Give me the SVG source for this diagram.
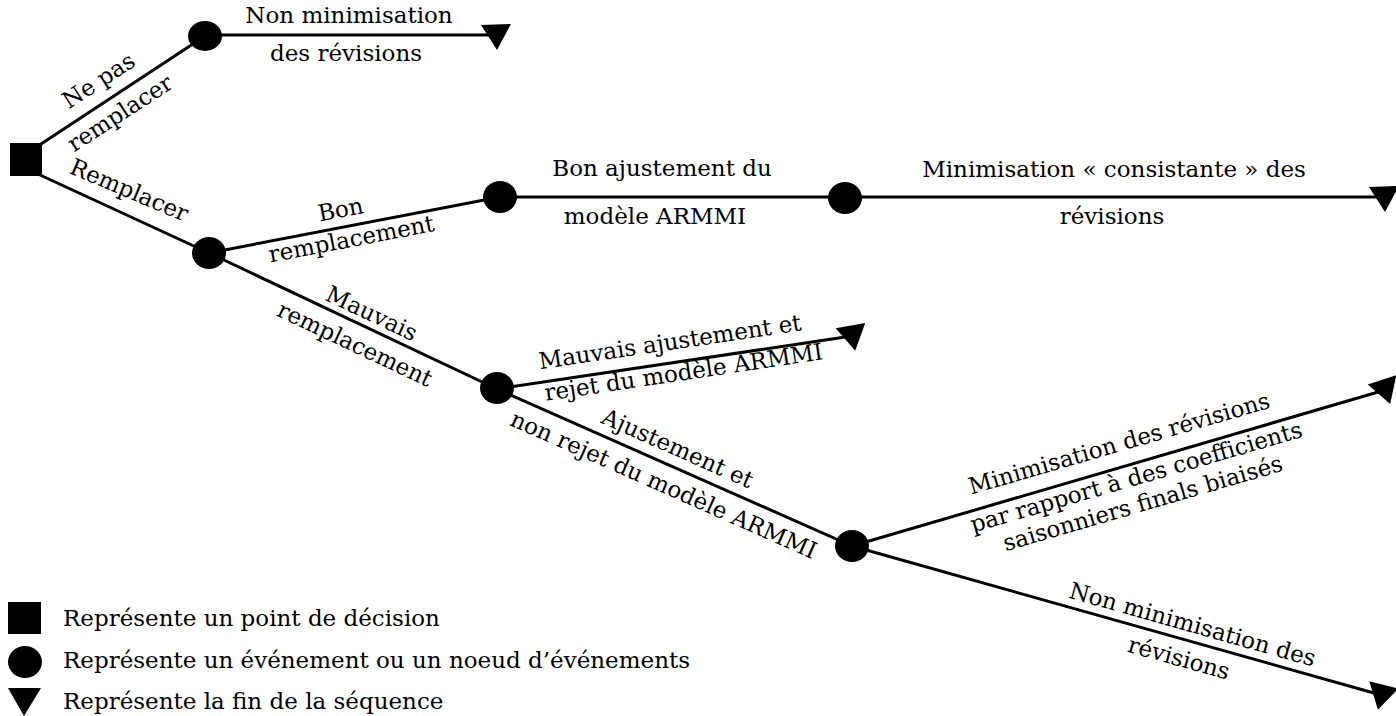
<svg xmlns="http://www.w3.org/2000/svg" width="1396" height="716" viewBox="0 0 1396 716">
<style>
.edge{stroke:#000;stroke-width:3;fill:none}
.n{fill:#000}
text{font-family:"DejaVu Serif","Liberation Serif",serif;font-size:23px;fill:#000;text-anchor:middle}
.leg{text-anchor:start}
</style>
<defs>
<marker id="end" viewBox="-20 -20 40 40" markerWidth="40" markerHeight="40" refX="0" refY="0" orient="auto" markerUnits="userSpaceOnUse">
<path d="M-15,-10 L15,-11 L1,15 Z" fill="#000"/>
</marker>
</defs>
<g id="connectors">
<path class="edge" d="M38,146 L205,36"/>
<path class="edge" d="M40,175 L209,253"/>
<path class="edge" d="M205,35 L496,35" marker-end="url(#end)"/>
<path class="edge" d="M209,253 L500,197"/>
<path class="edge" d="M209,253 L497,389"/>
<path class="edge" d="M500,197 L845,197"/>
<path class="edge" d="M845,197 L1384,197" marker-end="url(#end)"/>
<path class="edge" d="M497,389 L852,336" marker-end="url(#end)"/>
<path class="edge" d="M497,389 L852,546"/>
<path class="edge" d="M852,546 L1385,390" marker-end="url(#end)"/>
<path class="edge" d="M852,546 L1381,695" marker-end="url(#end)"/>
</g>
<g id="decision"><rect class="n" x="10" y="143" width="32" height="33"/></g>
<g id="nodeA"><ellipse class="n" cx="205" cy="36" rx="17" ry="15"/></g>
<g id="nodeB"><ellipse class="n" cx="209" cy="253" rx="17" ry="16"/></g>
<g id="nodeC"><ellipse class="n" cx="500" cy="197" rx="17" ry="16"/></g>
<g id="nodeD"><ellipse class="n" cx="845" cy="198" rx="17" ry="16"/></g>
<g id="nodeE"><ellipse class="n" cx="497" cy="388" rx="17" ry="16"/></g>
<g id="nodeF"><ellipse class="n" cx="852" cy="546" rx="17" ry="16"/></g>
<g id="labels">
<g transform="translate(110,98) rotate(-33.1)"><text y="-13">Ne pas</text><text y="26">remplacer</text></g>
<g transform="translate(120,212) rotate(23)"><text y="-16">Remplacer</text></g>
<g transform="translate(344,227) rotate(-10.9)"><text y="-10">Bon</text><text x="5" y="21">remplacement</text></g>
<g transform="translate(364.5,326.4) rotate(25.3)"><text x="1" y="-7">Mauvais</text><text x="-1" y="28">remplacement</text></g>
<text x="349" y="23">Non minimisation</text>
<text x="346" y="61">des révisions</text>
<text x="662" y="176">Bon ajustement du</text>
<text x="655" y="224">modèle ARMMI</text>
<text x="1114" y="177">Minimisation « consistante » des</text>
<text x="1112" y="224">révisions</text>
<g transform="translate(677,362) rotate(-8.5)"><text x="-4" y="-13">Mauvais ajustement et</text><text x="5" y="19">rejet du modèle ARMMI</text></g>
<g transform="translate(670,465.5) rotate(23.9)"><text y="-11">Ajustement et</text><text x="2" y="28">non rejet du modèle ARMMI</text></g>
<g transform="translate(1120,468) rotate(-16.2)"><text x="6" y="-16">Minimisation des révisions</text><text x="13" y="21">par rapport à des coefficients</text><text x="12" y="48">saisonniers finals biaisés</text></g>
<g transform="translate(1188,640.7) rotate(15.7)"><text y="-9">Non minimisation des</text><text x="-4" y="27">révisions</text></g>
</g>
<g id="legend">
<rect class="n" x="8" y="602" width="33" height="32"/>
<ellipse class="n" cx="25" cy="662" rx="17" ry="16"/>
<polygon class="n" points="8,688 41,688 24,716"/>
<text class="leg" x="63" y="626">Représente un point de décision</text>
<text class="leg" x="63" y="668">Représente un événement ou un noeud d’événements</text>
<text class="leg" x="63" y="709">Représente la fin de la séquence</text>
</g>
</svg>
